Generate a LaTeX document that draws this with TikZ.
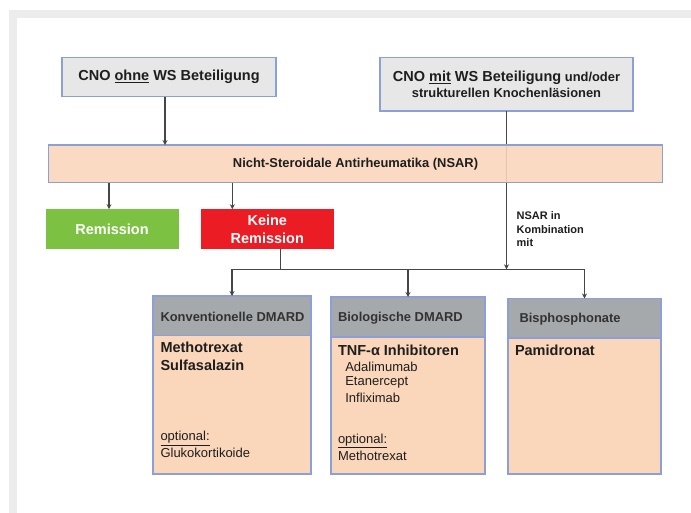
\documentclass[tikz,border=0pt]{standalone}
\usepackage{fontspec}
\setmainfont{Liberation Sans}
\usetikzlibrary{arrows.meta}
\definecolor{bordblue}{RGB}{140,160,215}
\definecolor{boxgray}{RGB}{231,231,231}
\definecolor{headgray}{RGB}{166,169,172}
\definecolor{peach}{RGB}{250,214,186}
\definecolor{remgreen}{RGB}{125,193,66}
\definecolor{remred}{RGB}{236,28,36}
\definecolor{framegray}{RGB}{236,236,236}
\definecolor{linegray}{RGB}{70,70,70}
\definecolor{txt}{RGB}{30,30,30}
\definecolor{headtxt}{RGB}{50,50,50}
\begin{document}
\begin{tikzpicture}[x=1pt,y=-1pt,
  box/.style={draw=bordblue,line width=1.2pt,inner sep=0pt,outer sep=0pt,text=txt},
  colbox/.style={inner sep=0pt,outer sep=0pt,minimum width=133pt,minimum height=40pt,text=white},
  conn/.style={draw=linegray,line width=1.2pt},
  arr/.style={conn,-{Stealth[length=5pt,width=5pt]}},
  fbig/.style={font=\fontsize{14.5}{18}\selectfont\bfseries},
  fmed/.style={font=\fontsize{12.9}{16}\selectfont\bfseries},
  freg/.style={font=\fontsize{13}{15.5}\selectfont},
  fsmall/.style={font=\fontsize{11}{13.6}\selectfont\bfseries},
  lbl/.style={inner sep=0pt,outer sep=0pt,anchor=west,text=txt},
]
\useasboundingbox (0,0) rectangle (691,513);
\fill[framegray] (9,10) rectangle (691,513);
\fill[white] (17,18) rectangle (691,513);

% top boxes
\node[box,fill=boxgray,minimum width=214pt,minimum height=39.4pt,fbig] (ohne) at (169,77) {CNO \underline{ohne} WS Beteiligung};
\node[box,fill=boxgray,minimum width=253pt,minimum height=53.7pt,align=center,font=\fontsize{12.9}{16}\selectfont\bfseries] (mit) at (506.5,84.2) {{\fontsize{14.5}{16}\selectfont CNO \underline{mit} WS Beteiligung} und/oder\\strukturellen Knochenläsionen};

\coordinate (jm) at (506.5,269.3);
\draw[arr] (mit.south) -- (jm);

% NSAR
\node[box,fill=peach,fill opacity=0.88,text opacity=1,minimum width=614pt,minimum height=37.7pt,fmed] (nsar) at (355.5,163.9) {Nicht-Steroidale Antirheumatika (NSAR)};

% remission boxes
\node[colbox,fill=remgreen,fbig] (rem) at (112,229.2) {Remission};
\node[colbox,fill=remred,align=center,font=\fontsize{14.5}{17.4}\selectfont\bfseries] (keine) at (267.3,229.2) {Keine\\Remission};

\node[fsmall,inner sep=0pt,anchor=north west,align=left,text=txt] (komb) at (516.5,211.5) {NSAR in\\Kombination\\mit};

\coordinate (ohnebot) at ([xshift=-4pt]ohne.south);
\draw[arr] (ohnebot) -- (ohnebot |- nsar.north);
\coordinate (remtop) at ([xshift=-3pt]rem.north);
\draw[arr] (remtop |- nsar.south) -- (remtop);
\coordinate (keinetop) at ([xshift=-35pt]keine.north);
\draw[arr] (keinetop |- nsar.south) -- (keinetop);

% lower boxes
\node[box,fill=peach,minimum width=158pt,minimum height=138.5pt] (b1) at (232,404.75) {};
\node[box,fill=headgray,minimum width=158pt,minimum height=39.5pt] (h1) at (232,315.75) {};
\node[box,fill=peach,minimum width=154pt,minimum height=137pt] (b2) at (408,405.5) {};
\node[box,fill=headgray,minimum width=154pt,minimum height=40pt] (h2) at (408,317) {};
\node[box,fill=peach,minimum width=153pt,minimum height=136pt] (b3) at (584.5,406) {};
\node[box,fill=headgray,minimum width=153pt,minimum height=39.5pt] (h3) at (584.5,318.25) {};

% connectors to lower boxes
\coordinate (jk) at ([xshift=13pt]keine.south);
\draw[conn] (jk) -- (jk |- jm);
\draw[conn] (h1.north |- jm) -- (h3.north |- jm);
\draw[arr] (h1.north |- jm) -- (h1.north);
\draw[arr] (h2.north |- jm) -- (h2.north);
\draw[arr] (h3.north |- jm) -- (h3.north);

% texts box 1
\node[lbl,fmed,text=headtxt] (t1h) at (160.5,316.7) {Konventionelle DMARD};
\node[lbl,fbig] (t1a) at (160.5,347.7) {Methotrexat};
\node[lbl,fbig] (t1b) at (160.5,365.7) {Sulfasalazin};
\node[lbl,freg] (t1c) at (160.5,438.5) {\underline{optional:}};
\node[lbl,freg] (t1d) at (160.5,453.3) {Glukokortikoide};

% texts box 2
\node[lbl,fmed,text=headtxt] (t2h) at (338,318.3) {Biologische DMARD};
\node[lbl,fbig] (t2a) at (338,350) {TNF-α Inhibitoren};
\node[lbl,freg] (t2b) at (345.3,366.7) {Adalimumab};
\node[lbl,freg] (t2c) at (345.3,382.3) {Etanercept};
\node[lbl,freg] (t2d) at (345.3,397.7) {Infliximab};
\node[lbl,freg] (t2e) at (338,441) {\underline{optional:}};
\node[lbl,freg] (t2f) at (338,456) {Methotrexat};

% texts box 3
\node[lbl,fmed,text=headtxt] (t3h) at (519.5,319) {Bisphosphonate};
\node[lbl,fbig] (t3a) at (515,350) {Pamidronat};
\end{tikzpicture}
\end{document}
